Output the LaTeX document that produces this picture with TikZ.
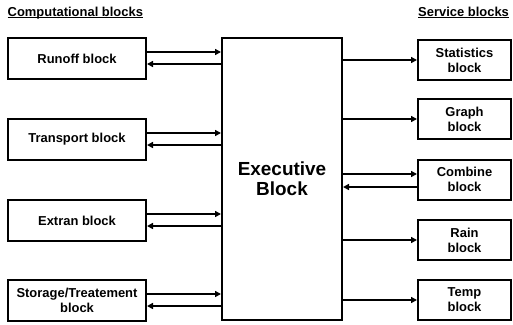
\documentclass[tikz,border=0pt]{standalone}
\usepackage{fontspec}
\setmainfont{Liberation Sans}
\usetikzlibrary{arrows.meta}
\begin{document}
\begin{tikzpicture}[x=1bp,y=-1bp,
  box/.style={draw, line width=2bp, align=center, inner sep=0pt,
    font=\bfseries\fontsize{13}{15}\selectfont},
  lbox/.style={box, minimum width=138bp, minimum height=41bp},
  rbox/.style={box, minimum width=93bp, minimum height=40bp},
  arr/.style={line width=2bp, -{Triangle[length=6bp,width=6bp]}},
  ttl/.style={font=\bfseries\fontsize{13}{15}\selectfont, inner sep=0pt, anchor=base west},
  uline/.style={line width=1bp}]
\useasboundingbox (0,0) rectangle (513,324);

% titles
\node[ttl] (tl) at (7.5,16) {Computational blocks};
\node[ttl] (tr) at (418,16) {Service blocks};
\draw[uline] ([yshift=-1.6bp]tl.base west) -- ([yshift=-1.6bp]tl.base east);
\draw[uline] ([yshift=-1.6bp]tr.base west) -- ([yshift=-1.6bp]tr.base east);

% executive
\node[box, minimum width=120bp, minimum height=282bp,
      font=\bfseries\fontsize{19}{20}\selectfont] (exec) at (282,179) {Executive\\Block};

% left boxes
\node[lbox] (runoff) at (77,58.5) {Runoff block};
\node[lbox] (transport) at (77,139.5) {Transport block};
\node[lbox] (extran) at (77,220.5) {Extran block};
\node[lbox] (storage) at (77,300.5) {Storage/Treatement\\block};

% right boxes
\node[rbox] (stats) at (464.5,60) {Statistics\\block};
\node[rbox] (graph) at (464.5,119) {Graph\\block};
\node[rbox] (combine) at (464.5,179.5) {Combine\\block};
\node[rbox] (rain) at (464.5,240) {Rain\\block};
\node[rbox] (temp) at (464.5,300) {Temp\\block};

% left arrows
\foreach \n in {runoff,transport,extran,storage}{
  \draw[arr] ([yshift=6.5bp]\n.east) -- ([yshift=6.5bp]\n.east -| exec.west);
  \draw[arr] ([yshift=-5.5bp]\n.east -| exec.west) -- ([yshift=-5.5bp]\n.east);
}

% right arrows
\foreach \n in {stats,graph,rain,temp}{
  \draw[arr] (\n.west -| exec.east) -- (\n.west);
}
\draw[arr] ([yshift=5.5bp]combine.west -| exec.east) -- ([yshift=5.5bp]combine.west);
\draw[arr] ([yshift=-7.5bp]combine.west) -- ([yshift=-7.5bp]combine.west -| exec.east);
\end{tikzpicture}
\end{document}
